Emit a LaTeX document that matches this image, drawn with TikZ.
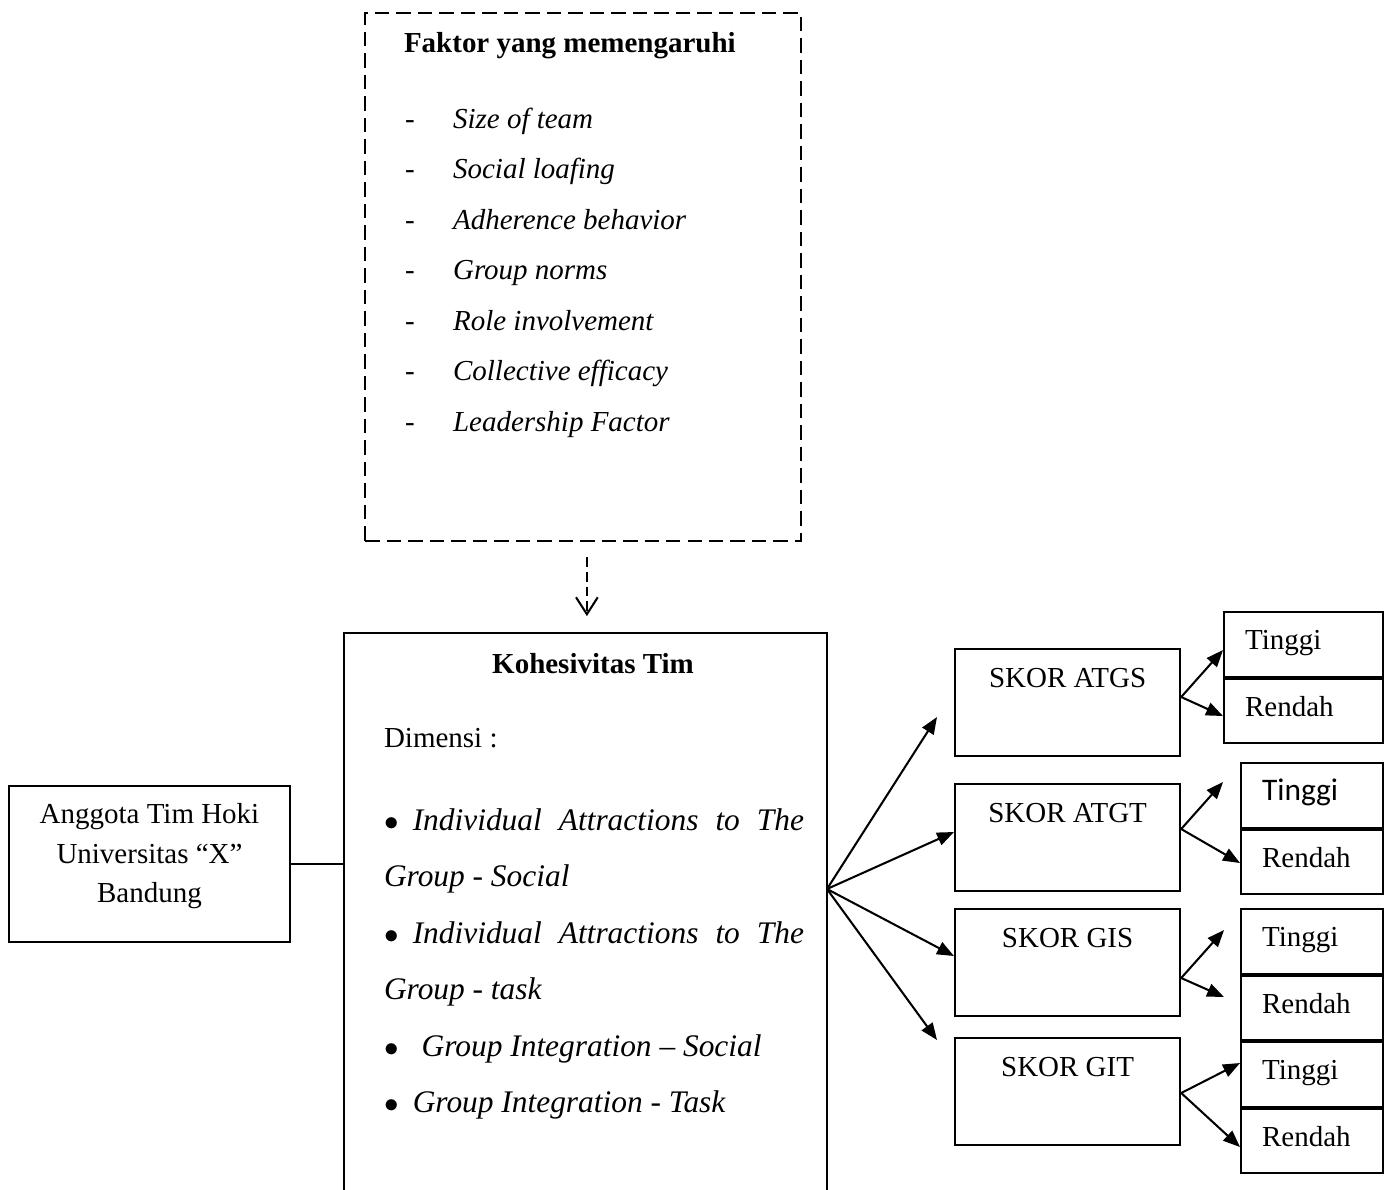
\documentclass[tikz,border=0pt,12pt]{standalone}
\usepackage{fontspec}
\setmainfont{Liberation Serif}
\newfontfamily\calibrifont{Carlito}
\usetikzlibrary{arrows.meta}

\begin{document}
\begin{tikzpicture}[x=0.414pt,y=-0.414pt,line width=0.85pt,
    >={Triangle[length=7pt,width=5.5pt]},
    plainbox/.style={draw,inner sep=0pt,anchor=north west},
    skorbox/.style={plainbox,minimum width=93.2pt,text height=16.1pt,text depth=28.2pt},
    hilobox/.style={plainbox,inner xsep=8.7pt,text height=15.5pt,text depth=11.2pt,
      align=left,text width=41.4pt}
  ]
    \useasboundingbox (0,0) rectangle (1387,1189);

    \node[plainbox,dash pattern=on 6pt off 2.9pt,minimum width=180.5pt,minimum height=218.6pt] (faktor) at (364,12) {};
    \node[anchor=base west,inner sep=0pt,font=\bfseries] (faktortitle) at (403,52) {Faktor yang memengaruhi};
    \node[anchor=base west,inner sep=0pt,align=left,font=\fontsize{12}{20.9}\selectfont] (faktorlist) at (404,431) {%
      \makebox[19.9pt][l]{-}\textit{Size of team}\\
      \makebox[19.9pt][l]{-}\textit{Social loafing}\\
      \makebox[19.9pt][l]{-}\textit{Adherence behavior}\\
      \makebox[19.9pt][l]{-}\textit{Group norms}\\
      \makebox[19.9pt][l]{-}\textit{Role involvement}\\
      \makebox[19.9pt][l]{-}\textit{Collective efficacy}\\
      \makebox[19.9pt][l]{-}\textit{Leadership Factor}};

    \node[plainbox,draw=none,minimum width=199.1pt,minimum height=230.2pt] (kohesi) at (344,633) {};
    \draw (kohesi.south west) |- (kohesi.north east) -- (kohesi.south east);
    \node[anchor=base,inner sep=0pt,font=\bfseries] (kohtitle) at (593,673) {Kohesivitas Tim};
    \node[anchor=base west,inner sep=0pt] (dimensi) at (383,747) {Dimensi :};
    \node[anchor=base west,inner sep=0pt,text width=173.9pt,align=justify,font=\fontsize{13}{23.4}\selectfont] (dimlist) at (383,830) {%
      $\bullet$\hspace{5.9pt}\textit{Individual Attractions to The}\linebreak \textit{Group - Social}\par
      $\bullet$\hspace{5.9pt}\textit{Individual Attractions to The}\linebreak \textit{Group - task}\par
      $\bullet$\hspace{9.6pt}\textit{Group Integration -- Social}\par
      $\bullet$\hspace{5.9pt}\textit{Group Integration - Task}};

    \node[plainbox] (anggota) at (8,785) {\parbox[c][64.6pt][c]{116.3pt}{\centering\baselineskip=16.4pt
      Anggota Tim Hoki\\ Universitas ``X''\\ Bandung\par\vspace{6.6pt}}};
    \draw (anggota.east) -- (anggota.east -| kohesi.west);

    \draw[dash pattern=on 4.1pt off 2pt,-{Straight Barb[length=7pt,width=9pt]},shorten <=6.2pt,shorten >=7pt]
      ([xshift=1.6pt]faktor.south) -- ([xshift=1.6pt]faktor.south |- kohesi.north);

    \node[skorbox] (atgs) at (954,648) {SKOR ATGS};
    \node[skorbox] (atgt) at (954,783) {SKOR ATGT};
    \node[skorbox] (gis) at (954,908) {SKOR GIS};
    \node[skorbox] (git) at (954,1037) {SKOR GIT};

    \node[hilobox,text width=48.4pt] (tinggiatgs) at (1223,611) {Tinggi};
    \node[hilobox,text width=48.4pt] (rendahatgs) at (tinggiatgs.south west) {Rendah};
    \node[hilobox,font=\calibrifont\fontsize{13}{15}\selectfont] (tinggiatgt) at (1240,762) {Tinggi};
    \node[hilobox] (rendahatgt) at (tinggiatgt.south west) {Rendah};
    \node[hilobox] (tinggigis) at (1240,908) {Tinggi};
    \node[hilobox] (rendahgis) at (tinggigis.south west) {Rendah};
    \node[hilobox] (tinggigit) at (rendahgis.south west) {Tinggi};
    \node[hilobox] (rendahgit) at (tinggigit.south west) {Rendah};

    \coordinate (fan) at (kohesi.north east |- 0,889);
    \coordinate (tipatgs) at (937,717);
    \coordinate (tipgit) at (937,1040);
    \coordinate (tiptinggiatgt) at (1223,782);
    \coordinate (tiptinggigis) at (1224,930);
    \coordinate (tiprendahgis) at (1224,997);

    \draw[->] (fan) -- (tipatgs);
    \draw[->] (fan) -- (atgt.west |- 0,832);
    \draw[->] (fan) -- (gis.west |- 0,956);
    \draw[->] (fan) -- (tipgit);

    \draw[->] (atgs.east |- 0,697) -- (tinggiatgs.west |- 0,650);
    \draw[->] (atgs.east |- 0,697) -- (rendahatgs.west |- 0,716);
    \draw[->] (atgt.east |- 0,829) -- (tiptinggiatgt);
    \draw[->] (atgt.east |- 0,829) -- (rendahatgt.west |- 0,863);
    \draw[->] (gis.east |- 0,978) -- (tiptinggigis);
    \draw[->] (gis.east |- 0,978) -- (tiprendahgis);
    \draw[->] (git.east |- 0,1093) -- (tinggigit.west |- 0,1063);
    \draw[->] (git.east |- 0,1093) -- (rendahgit.west |- 0,1147);
\end{tikzpicture}
\end{document}
